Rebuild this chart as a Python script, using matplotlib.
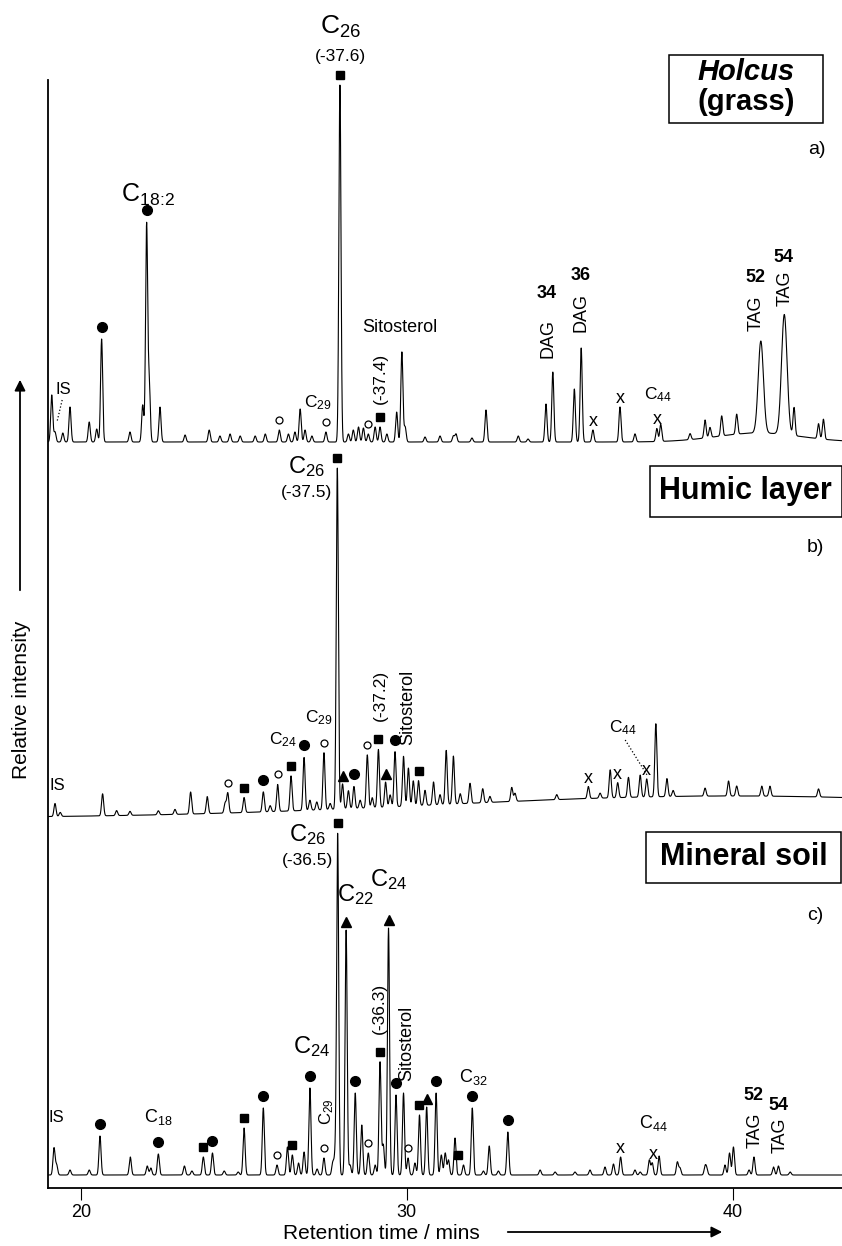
import numpy as np
import matplotlib.pyplot as plt
from matplotlib.patches import Rectangle

plt.rcParams['font.family'] = ['Liberation Sans', 'DejaVu Sans']
plt.rcParams['mathtext.fontset'] = 'custom'
plt.rcParams['mathtext.rm'] = 'Liberation Sans'
plt.rcParams['mathtext.it'] = 'Liberation Sans:italic'
plt.rcParams['mathtext.bf'] = 'Liberation Sans:bold'

# peaks: retention time (min) and height (arbitrary units)
holcus_rt = [19.11, 19.21, 19.45, 19.67, 20.26, 20.49, 20.64, 21.51, 21.90, 22.02, 22.10, 22.43,
             23.20, 23.94, 24.27, 24.58, 24.89, 25.35, 25.66, 26.09, 26.37, 26.57, 26.73, 26.88,
             27.09, 27.52, 27.95, 28.21, 28.36, 28.52, 28.67, 28.82, 29.03, 29.18, 29.39, 29.69,
             29.85, 29.95, 30.56, 31.02, 31.43, 31.51, 32.00, 32.43, 33.42, 33.72, 34.27, 34.48,
             35.14, 35.35, 35.71, 36.54, 37.00, 37.67, 37.79, 38.69, 39.15, 39.30, 39.66, 40.12,
             41.88, 42.63, 42.78]
holcus_h = [47, 10, 9, 35, 20, 13, 103, 10, 37, 217, 60, 35,
            7, 12, 6, 8, 6, 6, 8, 12, 8, 10, 33, 12,
            6, 10, 357, 8, 12, 15, 14, 8, 15, 15, 8, 30,
            90, 15, 5, 6, 6, 8, 4, 32, 6, 3, 38, 70,
            53, 94, 12, 35, 8, 13, 17, 6, 18, 10, 20, 20,
            28, 15, 20]
# broad peaks / humps: (rt, height, sigma)
holcus_broad = [(40.86, 92, 0.08), (41.58, 120, 0.085), (40.8, 9, 1.3)]

humic_rt = [19.21, 19.37, 20.67, 21.10, 21.51, 22.38, 22.89, 23.37, 23.88, 24.43, 24.51, 25.01,
            25.60, 25.81, 26.04, 26.45, 26.85, 27.03, 27.24, 27.46, 27.65, 27.87, 28.03, 28.21,
            28.38, 28.57, 28.79, 28.94, 29.13, 29.35, 29.49, 29.64, 29.90, 30.05, 30.20, 30.36,
            30.56, 30.82, 31.02, 31.21, 31.43, 31.64, 31.94, 32.33, 32.55, 33.22, 33.32, 34.60,
            35.57, 35.93, 36.24, 36.47, 36.80, 37.16, 37.36, 37.64, 37.98, 38.17, 39.15, 39.87,
            40.12, 40.89, 41.14, 42.63]
humic_h = [13, 4, 22, 5, 4, 4, 5, 22, 17, 10, 20, 15,
           20, 6, 27, 35, 53, 10, 8, 57, 6, 341, 25, 18,
           22, 8, 53, 10, 58, 25, 12, 55, 50, 38, 25, 25,
           15, 23, 10, 54, 48, 10, 20, 14, 6, 14, 8, 5,
           12, 5, 28, 15, 20, 22, 18, 73, 18, 6, 8, 15,
           10, 10, 10, 8]
humic_broad = [(40.0, 22, 9.0)]

mineral_rt = [19.18, 19.26, 19.67, 20.26, 20.59, 21.52, 22.04, 22.15, 22.38, 23.18, 23.41, 23.76,
              24.04, 24.40, 24.83, 25.01, 25.60, 26.02, 26.34, 26.49, 26.68, 26.85, 27.03, 27.25,
              27.46, 27.73, 27.80, 27.88, 28.14, 28.26, 28.42, 28.62, 28.82, 29.03, 29.18, 29.28,
              29.44, 29.67, 29.90, 30.04, 30.25, 30.39, 30.61, 30.90, 31.06, 31.18, 31.28, 31.48,
              31.74, 32.01, 32.35, 32.53, 32.81, 33.10, 34.09, 34.55, 35.16, 35.62, 36.08, 36.34,
              36.56, 37.00, 37.16, 37.44, 37.53, 37.74, 38.30, 38.38, 39.15, 39.20, 39.76, 39.90,
              40.02, 40.50, 40.65, 41.25, 41.40, 41.76]
mineral_h = [27, 10, 5, 5, 39, 18, 9, 7, 21, 9, 4, 18,
             22, 4, 3, 47, 67, 10, 28, 20, 12, 23, 87, 6,
             17, 12, 17, 341, 245, 10, 82, 50, 22, 10, 113, 30,
             247, 80, 82, 17, 12, 60, 68, 82, 20, 22, 15, 37,
             10, 67, 4, 29, 4, 43, 5, 3, 3, 5, 8, 11,
             18, 5, 3, 15, 12, 19, 13, 7, 8, 6, 10, 22,
             28, 5, 18, 8, 9, 3]
mineral_broad = []

# compound symbols: o filled circle, s square, ^ triangle, c open circle, x cross
holcus_marks = [(20.64, 'o'), (22.02, 'o'), (26.09, 'c'), (27.52, 'c'), (27.95, 's'),
                (28.82, 'c'), (29.18, 's'), (35.71, 'x'), (36.54, 'x'), (37.67, 'x')]
humic_marks = [(24.51, 'c'), (25.01, 's'), (25.60, 'o'), (26.04, 'c'), (26.45, 's'),
               (26.85, 'o'), (27.46, 'c'), (27.87, 's'), (28.03, '^'), (28.38, 'o'),
               (28.79, 'c'), (29.13, 's'), (29.35, '^'), (29.64, 'o'), (30.36, 's'),
               (35.57, 'x'), (36.47, 'x'), (37.36, 'x')]
mineral_marks = [(20.59, 'o'), (22.38, 'o'), (23.76, 's'), (24.04, 'o'), (25.01, 's'),
                 (25.60, 'o'), (26.02, 'c'), (26.49, 's'), (27.03, 'o'), (27.46, 'c'),
                 (27.88, 's'), (28.14, '^'), (28.42, 'o'), (28.82, 'c'), (29.18, 's'),
                 (29.44, '^'), (29.67, 'o'), (30.04, 'c'), (30.39, 's'), (30.61, '^'),
                 (30.90, 'o'), (31.58, 's'), (32.01, 'o'), (33.10, 'o'), (36.56, 'x'),
                 (37.56, 'x')]

t = np.linspace(18.98, 43.35, 8000)


def trace(rt, h, broad, base):
    y = np.full_like(t, float(base))
    for c, a in zip(rt, h):
        y += a * np.exp(-0.5 * ((t - c) / 0.032) ** 2)
    for c, a, w in broad:
        y += a * np.exp(-0.5 * ((t - c) / w) ** 2)
    return y


def draw_marks(ax, y, marks):
    gaps = {'o': 12, 's': 10, '^': 8, 'c': 10}
    for rt, kind in marks:
        top = y[np.abs(t - rt) < 0.05].max()
        if kind == 'x':
            ax.text(rt, top + 4, 'x', fontsize=13, ha='center', va='baseline')
        elif kind == 'c':
            ax.plot(rt, top + gaps[kind], 'o', ms=5, mfc='white', mec='k', mew=0.9, clip_on=False)
        else:
            ms = {'o': 7, 's': 6, '^': 7}[kind]
            ax.plot(rt, top + gaps[kind], kind, ms=ms, color='k', clip_on=False)


fig = plt.figure(figsize=(8.42, 12.46), dpi=100)
ax = fig.add_axes([47.5 / 842, 58 / 1246, 794.5 / 842, 1108 / 1246])

ya = trace(holcus_rt, holcus_h, holcus_broad, 746)
yb = trace(humic_rt, humic_h, humic_broad, 370)
yc = trace(mineral_rt, mineral_h, mineral_broad, 13)
for y, marks in [(ya, holcus_marks), (yb, humic_marks), (yc, mineral_marks)]:
    ax.plot(t, y, color='k', lw=0.8)
    draw_marks(ax, y, marks)

ax.set_xlim(18.98, 43.35)
ax.set_ylim(0, 1108)
ax.set_yticks([])
ax.set_xticks([20, 30, 40])
ax.tick_params(axis='x', direction='out', length=8.5, width=0.8, labelsize=13, pad=3)
ax.spines['top'].set_visible(False)
ax.spines['right'].set_visible(False)
ax.spines['left'].set_linewidth(1.3)
ax.spines['bottom'].set_linewidth(1.3)


def label(x, y, s, size=12.5, weight='normal', rot=0):
    ax.text(x, y, s, fontsize=size, fontweight=weight, rotation=rot,
            ha='center', va='center', clip_on=False)


# a) Holcus
label(27.96, 1161, 'C$_{26}$', 19)
label(27.96, 1131, '(-37.6)', 12.5)
label(22.07, 993, r'C$_{18\!:\!2}$', 18)
label(19.46, 798, 'IS', 12)
ax.plot([19.43, 19.27], [788, 766], ls=':', color='k', lw=0.9)
label(27.28, 785, 'C$_{29}$')
label(29.18, 810, '(-37.4)', rot=90)
label(29.80, 860, 'Sitosterol', 13)
label(34.29, 895, '34', 13, 'bold')
label(34.34, 850, 'DAG', 13, rot=90)
label(35.32, 912, '36', 13, 'bold')
label(35.34, 875, 'DAG', 13, rot=90)
label(37.69, 793, 'C$_{44}$')
label(40.68, 911, '52', 13, 'bold')
label(40.71, 875, 'TAG', 13, rot=90)
label(41.55, 930, '54', 13, 'bold')
label(41.60, 900, 'TAG', 13, rot=90)
label(42.58, 1038, 'a)', 14)

# b) humic layer
label(26.93, 721, 'C$_{26}$', 17)
label(26.93, 695, '(-37.5)')
label(27.29, 470, 'C$_{29}$')
label(26.21, 448, 'C$_{24}$')
label(29.18, 493, '(-37.2)', rot=90)
label(30.02, 481, 'Sitosterol', 13, rot=90)
label(19.27, 403, 'IS', 12)
label(36.64, 460, 'C$_{44}$')
ax.plot([36.70, 37.39], [448, 412], ls=':', color='k', lw=0.9)
label(42.52, 640, 'b)', 14)

# c) mineral soil
label(26.94, 353, 'C$_{26}$', 17)
label(26.94, 327, '(-36.5)')
label(28.42, 293, 'C$_{22}$', 17)
label(29.43, 308, 'C$_{24}$', 17)
label(27.09, 141, 'C$_{24}$', 17)
label(29.15, 180, '(-36.3)', rot=90)
label(30.00, 145, 'Sitosterol', 13, rot=90)
label(27.55, 76, 'C$_{29}$', 12, rot=90)
label(19.25, 71, 'IS', 12)
label(22.37, 71, 'C$_{18}$', 13)
label(32.04, 111, 'C$_{32}$', 13)
label(37.56, 65, 'C$_{44}$', 13)
label(40.63, 93, '52', 13, 'bold')
label(40.69, 58, 'TAG', 13, rot=90)
label(41.39, 83, '54', 13, 'bold')
label(41.45, 53, 'TAG', 13, rot=90)
label(42.52, 273, 'c)', 14)

# sample boxes
for x0, y0, w, h in [(0.7945, 0.9013, 0.1829, 0.0546),
                     (0.7720, 0.5851, 0.2275, 0.0409),
                     (0.7672, 0.2913, 0.2322, 0.0409)]:
    fig.patches.append(Rectangle((x0, y0), w, h, transform=fig.transFigure,
                                 fill=False, ec='k', lw=1.1))
fig.text(0.886, 0.9422, 'Holcus', fontsize=21, fontweight='bold', style='italic',
         ha='center', va='center')
fig.text(0.886, 0.9181, '(grass)', fontsize=21, fontweight='bold', ha='center', va='center')
fig.text(0.8848, 0.6059, 'Humic layer', fontsize=22, fontweight='bold', ha='center', va='center')
fig.text(0.8836, 0.3122, 'Mineral soil', fontsize=22, fontweight='bold', ha='center', va='center')

# axis titles with arrows
fig.text(0.4525, 0.0104, 'Retention time / mins', fontsize=15, ha='center', va='center')
ax.annotate('', xy=(725 / 842, 1 - 1232 / 1246), xytext=(505 / 842, 1 - 1232 / 1246),
            xycoords='figure fraction', textcoords='figure fraction',
            arrowprops=dict(arrowstyle='-|>', color='k', lw=1.3, mutation_scale=16))
fig.text(22 / 842, 1 - 700 / 1246, 'Relative intensity', fontsize=15, rotation=90,
         ha='center', va='center')
ax.annotate('', xy=(20 / 842, 1 - 377 / 1246), xytext=(20 / 842, 1 - 593 / 1246),
            xycoords='figure fraction', textcoords='figure fraction',
            arrowprops=dict(arrowstyle='-|>', color='k', lw=1.3, mutation_scale=16))

fig.savefig('out.png', dpi=100)
